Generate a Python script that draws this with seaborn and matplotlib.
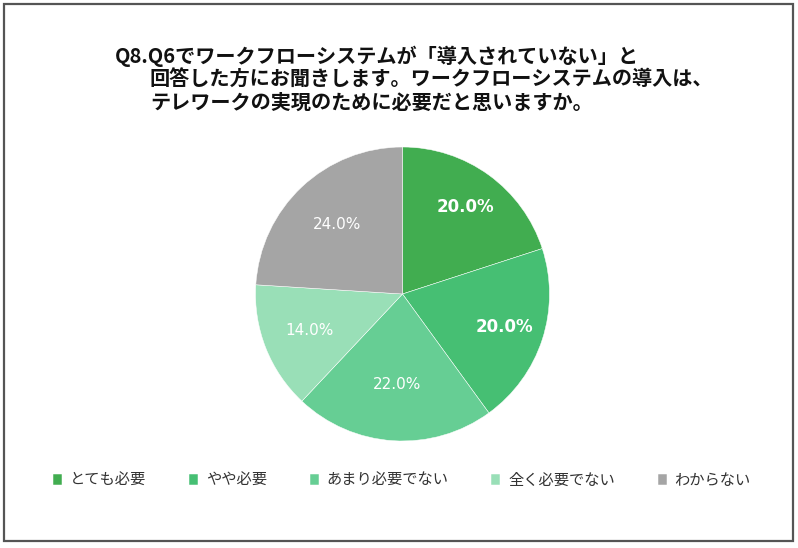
import numpy as np
import matplotlib
matplotlib.use("Agg")
import matplotlib.pyplot as plt
import matplotlib.patches as mpatches
import seaborn as sns

# data
categories = ["とても必要", "やや必要", "あまり必要でない", "全く必要でない", "わからない"]
shares = [20.0, 20.0, 22.0, 14.0, 24.0]
colors = ["#41AD50", "#46BF73", "#66CE94", "#99DFB7", "#A5A5A5"]
title_lines = [
    "Q8.Q6でワークフローシステムが「導入されていない」と",
    "回答した方にお聞きします。ワークフローシステムの導入は、",
    "テレワークの実現のために必要だと思いますか。",
]

sns.set_theme(style="white")
plt.rcParams["font.family"] = ["Noto Sans CJK JP", "DejaVu Sans"]

W, H = 798, 548
fig = plt.figure(figsize=(W / 100, H / 100), dpi=100)
fig.patch.set_facecolor("white")

# pie axes: centre (402.5, 294) px, radius 147 px
cx, cy, r = 402.5, 294, 147
ax = fig.add_axes([(cx - r) / W, (H - cy - r) / H, 2 * r / W, 2 * r / H])

wedges, texts, autotexts = ax.pie(
    shares,
    colors=colors,
    startangle=90,
    counterclock=False,
    autopct="%.1f%%",
    pctdistance=0.7,
    wedgeprops=dict(edgecolor="white", linewidth=0.35),
    textprops=dict(color="white", fontsize=11, family="DejaVu Sans"),
)
ax.set_xlim(-1, 1)
ax.set_ylim(-1, 1)
ax.set_aspect("equal")

# Excel-like label placement (radial distance per label)
label_dist = [0.73, 0.73, 0.62, 0.68, 0.65]
for i, t in enumerate(autotexts):
    pos = np.array(t.get_position()) * label_dist[i] / 0.7
    t.set_position(pos)
    if i < 2:
        t.set_fontweight("bold")
        t.set_fontsize(12)

# title, three manually placed lines
title_pos = [(115, 56), (150, 79), (150, 102)]
for line, (x, y) in zip(title_lines, title_pos):
    fig.text(x / W, 1 - y / H, line, ha="left", va="center",
             fontsize=14.5, fontweight="bold", color="#111111")

# legend
fig.legend(
    wedges, categories,
    loc="center", bbox_to_anchor=(402 / W, 1 - 480 / H),
    ncol=5, frameon=False, fontsize=11,
    handlelength=0.6, handleheight=0.7, handletextpad=0.5,
    columnspacing=2.8, labelcolor="#333333",
)

# outer frame
fig.patches.append(mpatches.Rectangle(
    (4 / W, 7 / H), (793 - 4) / W, (541 - 4) / H,
    transform=fig.transFigure, fill=False, edgecolor="#555555", linewidth=1.6,
))

fig.savefig("out.png", dpi=100)
